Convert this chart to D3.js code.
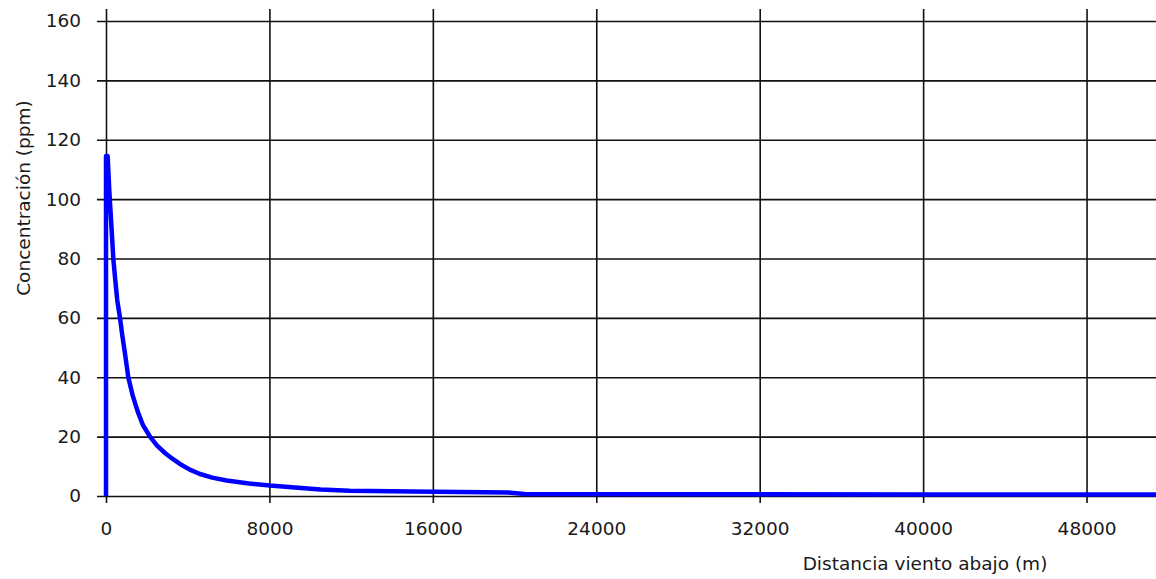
<!DOCTYPE html>
<html>
<head>
<meta charset="utf-8">
<script src="https://cdn.jsdelivr.net/npm/d3@7"></script>
<style>
  body { margin: 0; background: #fff; }
  text { font-family: "DejaVu Sans", Verdana, sans-serif; fill: #1a1a1a; }
</style>
</head>
<body>
<svg width="1156" height="579"></svg>
<script>
// distancia viento abajo (m) y concentración (ppm)
var distancia = [0, 0, 80, 160, 220, 290, 357, 450, 550, 685, 800, 950, 1091, 1300, 1550, 1800,
  2153, 2500, 2900, 3300, 3621, 4100, 4599, 5200, 5906, 7000, 8024, 9400, 10500, 11939,
  15000, 19670, 20500, 30000, 40000, 51400];
var concentracion = [0, 114.5, 114.5, 103, 96, 88, 80, 73, 66, 60, 54, 47, 40, 34, 28.5, 24,
  20, 17, 14.4, 12.3, 10.8, 8.9, 7.4, 6.2, 5.2, 4.2, 3.5, 2.8, 2.2, 1.8,
  1.5, 1.2, 0.7, 0.6, 0.5, 0.5];

var xTicks = [0, 8000, 16000, 24000, 32000, 40000, 48000];
var yTicks = [0, 20, 40, 60, 80, 100, 120, 140, 160];

var svg = d3.select("svg"),
    W = +svg.attr("width"),
    H = +svg.attr("height"),
    plotLeft = 106, plotTop = 21, plotBottom = 496, gridTop = 9, tickEnd = 503;

var x = d3.scaleLinear().domain([0, 51400]).range([plotLeft, W]);
var y = d3.scaleLinear().domain([0, 160]).range([plotBottom, plotTop]);

// eje y + lineas horizontales
var yAx = svg.append("g")
    .attr("transform", "translate(97,0)")
    .call(d3.axisLeft(y).tickValues(yTicks).tickSize(-(W - 97)).tickPadding(16));
// eje x + lineas verticales
var xAx = svg.append("g")
    .attr("transform", "translate(0," + tickEnd + ")")
    .call(d3.axisBottom(x).tickValues(xTicks).tickSize(-(tickEnd - gridTop)).tickPadding(19)
      .tickFormat(d3.format("d")));

[yAx, xAx].forEach(function(a) {
  a.select(".domain").remove();
  a.selectAll(".tick line").attr("stroke", "#111").attr("stroke-width", 1.6);
  a.selectAll(".tick text").style("font-size", "18.5px").attr("fill", "#1a1a1a");
});

// curva
var pts = distancia.map(function(d, i) { return [d, concentracion[i]]; });
svg.append("path")
    .datum(pts)
    .attr("fill", "none")
    .attr("stroke", "#0000ff")
    .attr("stroke-width", 4.5)
    .attr("stroke-linejoin", "round")
    .attr("d", d3.line().x(d => x(d[0])).y(d => y(d[1])));

// titulos de ejes
svg.append("text")
    .attr("x", 925)
    .attr("y", 570)
    .attr("text-anchor", "middle")
    .style("font-size", "18.5px")
    .text("Distancia viento abajo (m)");

svg.append("text")
    .attr("transform", "translate(30,198) rotate(-90)")
    .attr("text-anchor", "middle")
    .style("font-size", "18.5px")
    .text("Concentración (ppm)");
</script>
</body>
</html>
